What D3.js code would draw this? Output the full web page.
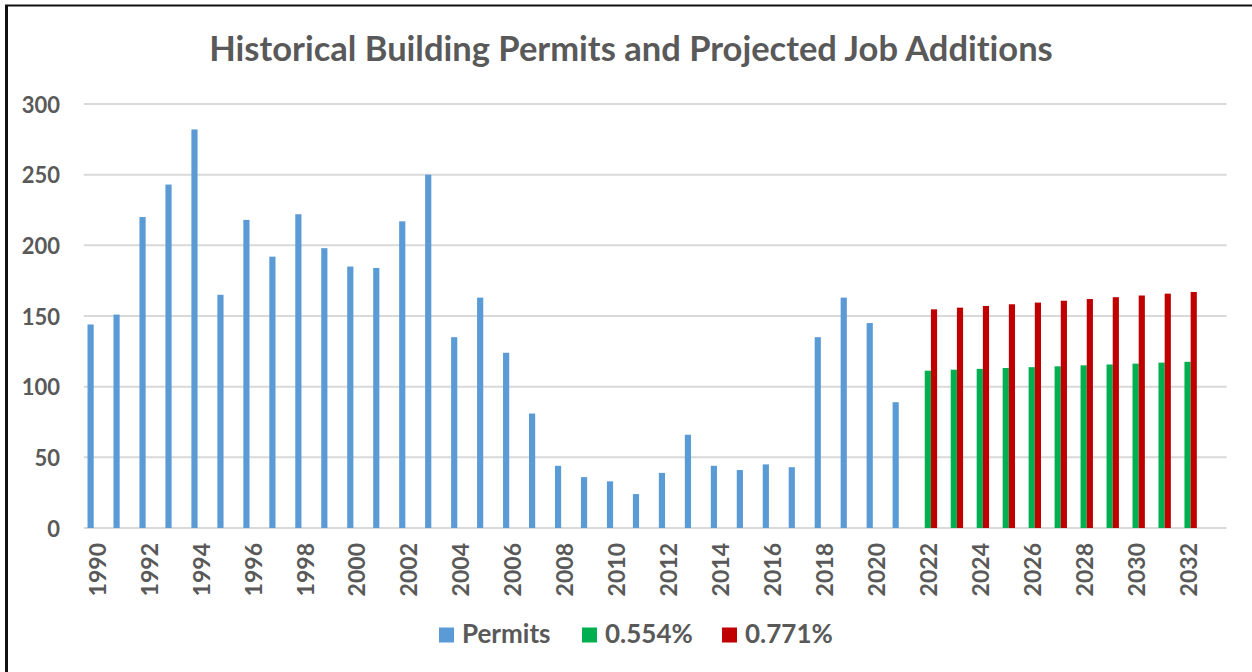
<!DOCTYPE html>
<html>
<head>
<meta charset="utf-8">
<script src="https://cdn.jsdelivr.net/npm/d3@7"></script>
<style>
  body { margin: 0; background: #fff; }
  text { font-family: Lato, "Open Sans", sans-serif; fill: #595959; font-variant-ligatures: none; }
</style>
</head>
<body>
<div id="main"></div>
<script>
// data
const years = d3.range(1990, 2034).map(String); // 2033 is an empty slot
const permitYears = d3.range(1990, 2022).map(String);
const permits = [144, 151, 220, 243, 282, 165, 218, 192, 222, 198, 185, 184, 217, 250,
  135, 163, 124, 81, 44, 36, 33, 24, 39, 66, 44, 41, 45, 43, 135, 163, 145, 89];
const projYears = d3.range(2022, 2033).map(String);
const proj554 = [111.3, 112.0, 112.6, 113.2, 113.8, 114.4, 115.1, 115.7, 116.3, 117.0, 117.6];
const proj771 = [154.7, 155.9, 157.1, 158.3, 159.5, 160.8, 162.0, 163.3, 164.5, 165.8, 167.0];
const seriesNames = ["Permits", "0.554%", "0.771%"];
const colors = ["#5b9bd5", "#00b050", "#c00000"];
const yTicks = [0, 50, 100, 150, 200, 250, 300];

const svgWidth = 1252, svgHeight = 672;
const plotLeft = 83.8, plotRight = 1226.5, plotTop = 104, plotBottom = 528;

var svg = d3.select("#main").append("svg")
  .attr("width", svgWidth)
  .attr("height", svgHeight);

// frame (only top and left edges are visible)
svg.append("line").attr("x1", 5).attr("x2", svgWidth).attr("y1", 5.5).attr("y2", 5.5)
  .attr("stroke", "#111").attr("stroke-width", 2);
svg.append("line").attr("x1", 6.5).attr("x2", 6.5).attr("y1", 5).attr("y2", svgHeight)
  .attr("stroke", "#111").attr("stroke-width", 3);

var x = d3.scaleBand().domain(years).range([plotLeft, plotRight]).padding(0);
var x1 = d3.scaleBand().domain(seriesNames).range([0, x.bandwidth()])
  .paddingInner(0).paddingOuter(0.6);
var y = d3.scaleLinear().domain([0, 300]).range([plotBottom, plotTop]);

// gridlines
svg.append("g").selectAll("line")
  .data(yTicks).enter().append("line")
  .attr("x1", plotLeft).attr("x2", plotRight)
  .attr("y1", d => y(d)).attr("y2", d => y(d))
  .attr("stroke", "#d9d9d9").attr("stroke-width", 2);

// y labels
svg.append("g").selectAll("text")
  .data(yTicks).enter().append("text")
  .attr("x", 60).attr("y", d => y(d))
  .attr("text-anchor", "end")
  .attr("dominant-baseline", "central")
  .style("font-size", "22px").style("font-weight", "bold")
  .text(d => d);

// bars
function drawSeries(cats, vals, idx) {
  svg.append("g").selectAll("rect")
    .data(vals).enter().append("rect")
    .attr("x", (d, i) => x(cats[i]) + x1(seriesNames[idx]))
    .attr("width", x1.bandwidth())
    .attr("y", d => y(d))
    .attr("height", d => y(0) - y(d))
    .attr("fill", colors[idx]);
}
drawSeries(permitYears, permits, 0);
drawSeries(projYears, proj554, 1);
drawSeries(projYears, proj771, 2);

// x labels, every second year
svg.append("g").selectAll("text")
  .data(years.filter((d, i) => i % 2 == 0)).enter().append("text")
  .attr("transform", d => "translate(" + (x(d) + x.bandwidth() / 2) + ",543) rotate(-90)")
  .attr("text-anchor", "end")
  .attr("dominant-baseline", "central")
  .style("font-size", "23px").style("font-weight", "bold")
  .text(d => d);

// title
svg.append("text")
  .attr("x", 631).attr("y", 61)
  .attr("text-anchor", "middle")
  .style("font-size", "34.5px").style("font-weight", "bold")
  .text("Historical Building Permits and Projected Job Additions");

// legend
const legX = [439, 582, 722];
seriesNames.forEach((s, i) => {
  svg.append("rect").attr("x", legX[i]).attr("y", 627.5)
    .attr("width", 15).attr("height", 15).attr("fill", colors[i]);
  svg.append("text").attr("x", legX[i] + 23).attr("y", 643)
    .style("font-size", "26px").style("font-weight", "bold")
    .text(s);
});
</script>
</body>
</html>
